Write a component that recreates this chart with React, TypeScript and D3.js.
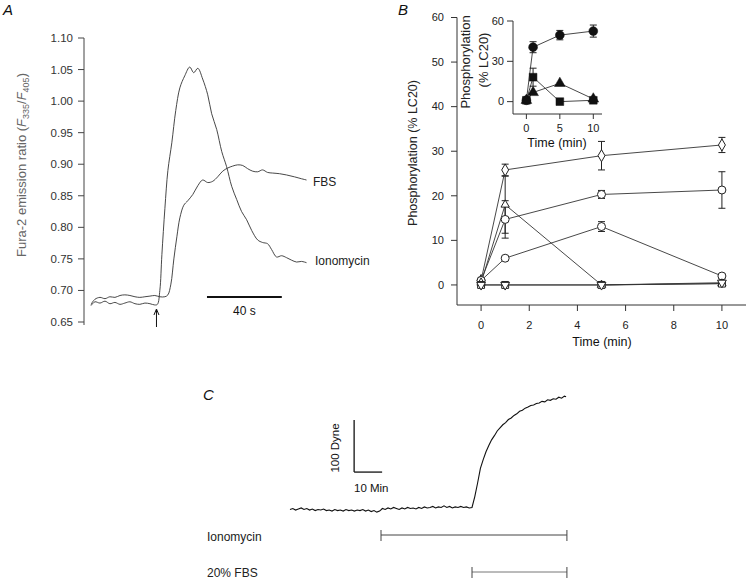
import React from 'react';
import * as d3 from 'd3';

// ---------- Panel A: Fura-2 ratio traces (time in s) ----------
const ionoTime = [0, 2.1, 4.8, 7.5, 10.1, 12.8, 15.5, 18.1, 20.8, 23.5, 26.1, 28.8, 31.5, 34.1, 35.5, 36.8, 37.9, 39.5, 41.1, 43.2, 45.3, 47.5, 50.1, 52.8, 54.9, 57.1, 59.7, 62.4, 64.5, 67.2, 69.9, 72.5, 75.2, 77.9, 80.5, 83.2, 85.9, 89.1, 91.7, 94.4, 96.5, 99.2, 101.9, 104.5, 107.2, 109.9, 112.5, 115.2];
const ionoRatio = [0.676, 0.682, 0.680, 0.683, 0.679, 0.681, 0.678, 0.680, 0.682, 0.679, 0.678, 0.680, 0.679, 0.677, 0.678, 0.700, 0.757, 0.830, 0.890, 0.934, 0.985, 1.021, 1.040, 1.054, 1.045, 1.052, 1.035, 1.010, 0.980, 0.955, 0.920, 0.896, 0.865, 0.844, 0.825, 0.812, 0.795, 0.780, 0.776, 0.774, 0.765, 0.753, 0.755, 0.752, 0.748, 0.745, 0.746, 0.744];
const fbsTime = [0, 2.1, 4.8, 7.5, 10.1, 12.8, 15.5, 18.1, 20.8, 23.5, 26.1, 28.8, 31.5, 34.1, 36.8, 39.5, 41.1, 42.7, 44.3, 45.9, 47.5, 49.6, 51.7, 54.4, 57.1, 59.7, 62.4, 65.1, 67.7, 70.4, 73.1, 75.7, 78.4, 81.1, 83.7, 86.4, 89.1, 91.7, 94.4, 97.1, 100.8, 104.5, 108.8, 112.5, 115.2];
const fbsRatio = [0.678, 0.686, 0.689, 0.687, 0.690, 0.689, 0.692, 0.693, 0.692, 0.690, 0.689, 0.690, 0.691, 0.692, 0.690, 0.690, 0.693, 0.710, 0.750, 0.785, 0.815, 0.835, 0.842, 0.852, 0.866, 0.875, 0.871, 0.873, 0.880, 0.889, 0.894, 0.897, 0.899, 0.898, 0.893, 0.889, 0.888, 0.891, 0.887, 0.886, 0.885, 0.883, 0.880, 0.877, 0.875];
const aTicks = [0.65, 0.70, 0.75, 0.80, 0.85, 0.90, 0.95, 1.00, 1.05, 1.10];
const aArrowTime = 35;
const aBarStart = 62;
const aBarLength = 40;

// ---------- Panel B: main phosphorylation (time in min) ----------
const bTimes = [0, 1, 5, 10];
const bDiamond = [1, 25.8, 29.0, 31.4];
const bDiamondErr = [0, 1.3, 3.2, 1.7];
const bCircleHi = [1, 14.7, 20.3, 21.3];
const bCircleHiErr = [0, 4.2, 0.9, 4.1];
const bCircleLo = [1, 6.0, 13.1, 2.0];
const bCircleLoErr = [0, 0.4, 1.1, 0.4];
const bTriUp = [0.5, 18.0, 0, 0.3];
const bTriUpErr = [0, 6.4, 0, 0];
const bTriDown = [0, 0, 0, 0.5];
const bSquare = [0, 0, 0, 0.3];
const bYTicks = [0, 10, 20, 30, 40, 50, 60];
const bXTicks = [0, 2, 4, 6, 8, 10];

// ---------- Panel B inset ----------
const inTimes = [0, 1, 5, 10];
const inCircle = [1, 40.5, 49.5, 52.5];
const inCircleErr = [0, 4.1, 3.5, 4.5];
const inSquare = [1, 18.2, 0, 1];
const inSquareErr = [0, 6.7, 0, 0];
const inTriangle = [1, 6.8, 13.6, 2];
const inYTicks = [0, 30, 60];
const inXTicks = [0, 5, 10];

// ---------- Panel C: force trace (time in min, dyne) ----------
const cTime = [0, 1, 2, 3, 4, 5, 6, 7, 8, 9, 10, 11, 12, 13, 14, 15, 16, 17, 18, 19, 20, 21, 22, 23, 24, 25, 26, 27, 28, 29, 30, 31, 32, 33, 34, 35, 36, 37, 38, 39, 40, 41, 42, 43, 44, 45, 46, 47, 48, 49, 50, 51, 52, 53, 54, 55, 56, 57, 58, 59, 60, 61, 62, 63, 64, 65, 66, 67, 68, 69, 70, 71, 72, 73, 74, 75, 76, 77, 78, 79, 80, 81, 82, 83, 84, 85, 86, 87, 88, 89, 90, 91, 92, 93, 94, 95, 96, 97, 98, 98.6];
const cForce = [-1, 1, -2, 0, 2, -1, 1, -2, 0, -3, -1, -2, 0, -3, -2, -4, -1, -3, -2, -4, -1, -3, -2, -4, -2, -3, -1, -4, -2, -5, -3, -6, -4, 1, -1, 2, 0, 3, 1, -1, 2, 0, 3, 1, 2, 0, 3, 1, 4, 2, 3, 5, 2, 4, 3, 6, 3, 5, 2, 4, 3, 5, 3, 4, 2, 3, 24, 50, 78, 95, 110, 122, 133, 141, 150, 156, 162, 166, 172, 175, 180, 183, 188, 190, 194, 196, 199, 200, 203, 204, 207, 206, 210, 209, 212, 211, 215, 213, 217, 216];
const cIonoStart = 32.5;
const cFbsStart = 65;
const cEnd = 98.9;
const cScaleT0 = 22.9;
const cScaleMin = 10;
const cScaleF0 = 71;
const cScaleDyne = 100;

const FONT = "'Liberation Sans', Arial, Helvetica, sans-serif";

function zip(a: number[], b: number[]): [number, number][] {
  return a.map((v, i) => [v, b[i]]);
}

export default function App() {
  // Panel A scales
  const xA = d3.scaleLinear().domain([0, 116]).range([91, 308]);
  const yA = d3.scaleLinear().domain([0.65, 1.10]).range([322, 38]);
  const lineA = d3.line<[number, number]>().x(d => xA(d[0])).y(d => yA(d[1])).curve(d3.curveCatmullRom);

  // Panel B scales
  const xB = d3.scaleLinear().domain([-1, 11]).range([457, 746]);
  const yB = d3.scaleLinear().domain([-4.5, 60]).range([305, 17.5]);
  const lineB = d3.line<[number, number]>().x(d => xB(d[0])).y(d => yB(d[1]));

  // Inset scales
  const xI = d3.scaleLinear().domain([-2, 11.3]).range([513, 602]);
  const yI = d3.scaleLinear().domain([-9.2, 60]).range([114, 21]);
  const lineI = d3.line<[number, number]>().x(d => xI(d[0])).y(d => yI(d[1]));

  // Panel C scales
  const xC = d3.scaleLinear().domain([0, 100]).range([290, 570]);
  const yC = d3.scaleLinear().domain([0, 100]).range([509, 457]);
  const lineC = d3.line<[number, number]>().x(d => xC(d[0])).y(d => yC(d[1]));

  const sym = (type: d3.SymbolType, size: number) => d3.symbol().type(type).size(size)() as string;

  const mainSeries = [
    { v: bDiamond, e: bDiamondErr, shape: d3.symbolDiamond, size: 42, rot: 0 },
    { v: bCircleHi, e: bCircleHiErr, shape: d3.symbolCircle, size: 50, rot: 0 },
    { v: bCircleLo, e: bCircleLoErr, shape: d3.symbolCircle, size: 50, rot: 0 },
    { v: bTriUp, e: bTriUpErr, shape: d3.symbolTriangle, size: 30, rot: 0 },
    { v: bSquare, e: null, shape: d3.symbolSquare, size: 48, rot: 0 },
    { v: bTriDown, e: null, shape: d3.symbolTriangle, size: 34, rot: 180 },
  ];
  const insetSeries = [
    { v: inCircle, e: inCircleErr, shape: d3.symbolCircle, size: 62 },
    { v: inSquare, e: inSquareErr, shape: d3.symbolSquare, size: 60 },
    { v: inTriangle, e: null, shape: d3.symbolTriangle, size: 50 },
  ];

  const ink = '#222';

  return (
    <svg width={750} height={582} style={{ position: 'absolute', left: 0, top: 0, background: '#fff' }} fontFamily={FONT}>
      <rect x={0} y={0} width={750} height={582} fill="#fff" />

      {/* ================= Panel A ================= */}
      <text x={3} y={15} fontSize={15} fontStyle="italic" fill="#111">A</text>
      <line x1={84} x2={84} y1={yA(1.10)} y2={yA(0.65) + 3} stroke="#444" strokeWidth={1} />
      {aTicks.map(t => (
        <g key={t}>
          <line x1={78} x2={84} y1={yA(t)} y2={yA(t)} stroke="#444" strokeWidth={1} />
          <text x={73} y={yA(t)} dy="0.35em" textAnchor="end" fontSize={11.5} fill="#333">{t.toFixed(2)}</text>
        </g>
      ))}
      <text transform={`translate(26,165) rotate(-90)`} textAnchor="middle" fontSize={13} fill="#666">
        Fura-2 emission ratio (<tspan fontStyle="italic">F</tspan><tspan fontSize={9} dy={3}>335</tspan><tspan dy={-3}>/</tspan><tspan fontStyle="italic">F</tspan><tspan fontSize={9} dy={3}>405</tspan><tspan dy={-3}>)</tspan>
      </text>
      <path d={lineA(zip(ionoTime, ionoRatio)) as string} fill="none" stroke="#333" strokeWidth={0.9} />
      <path d={lineA(zip(fbsTime, fbsRatio)) as string} fill="none" stroke="#333" strokeWidth={0.9} />
      <text x={313} y={185.5} fontSize={12} fill="#222">FBS</text>
      <text x={315} y={265} fontSize={12} fill="#222">Ionomycin</text>
      {/* arrow */}
      <line x1={xA(aArrowTime)} x2={xA(aArrowTime)} y1={310} y2={327} stroke="#111" strokeWidth={1} />
      <path d={`M${xA(aArrowTime) - 2.5},${315} L${xA(aArrowTime)},${309} L${xA(aArrowTime) + 2.5},${315}`} fill="none" stroke="#111" strokeWidth={1} />
      {/* 40 s scale bar */}
      <line x1={xA(aBarStart)} x2={xA(aBarStart + aBarLength)} y1={297} y2={297} stroke="#111" strokeWidth={2} />
      <text x={xA(aBarStart + aBarLength / 2)} y={314.5} textAnchor="middle" fontSize={12} fill="#111">40 s</text>

      {/* ================= Panel B ================= */}
      <text x={398} y={15} fontSize={15} fontStyle="italic" fill="#111">B</text>
      <line x1={457} x2={457} y1={yB(60)} y2={305} stroke="#333" strokeWidth={1} />
      <line x1={457} x2={746} y1={305} y2={305} stroke="#333" strokeWidth={1} />
      {bYTicks.map(t => (
        <g key={t}>
          <line x1={451} x2={457} y1={yB(t)} y2={yB(t)} stroke="#333" strokeWidth={1} />
          <text x={444} y={yB(t)} dy="0.35em" textAnchor="end" fontSize={11} fill="#222">{t}</text>
        </g>
      ))}
      {bXTicks.map(t => (
        <g key={t}>
          <line x1={xB(t)} x2={xB(t)} y1={305} y2={311} stroke="#333" strokeWidth={1} />
          <text x={xB(t)} y={329} textAnchor="middle" fontSize={11} fill="#222">{t}</text>
        </g>
      ))}
      <text x={602} y={346} textAnchor="middle" fontSize={12.5} fill="#111">Time (min)</text>
      <text transform={`translate(417,153) rotate(-90)`} textAnchor="middle" fontSize={12.5} fill="#222">Phosphorylation (% LC20)</text>

      {/* main lines */}
      {mainSeries.map((s, i) => (
        <path key={'l' + i} d={lineB(zip(bTimes, s.v)) as string} fill="none" stroke="#333" strokeWidth={0.9} />
      ))}
      {/* error bars */}
      {mainSeries.map((s, i) => s.e ? s.e.map((e, j) => e > 0 ? (
        <g key={'e' + i + '-' + j} stroke="#222" strokeWidth={1}>
          <line x1={xB(bTimes[j])} x2={xB(bTimes[j])} y1={yB(s.v[j] - e)} y2={yB(s.v[j] + e)} />
          <line x1={xB(bTimes[j]) - 3.5} x2={xB(bTimes[j]) + 3.5} y1={yB(s.v[j] - e)} y2={yB(s.v[j] - e)} />
          <line x1={xB(bTimes[j]) - 3.5} x2={xB(bTimes[j]) + 3.5} y1={yB(s.v[j] + e)} y2={yB(s.v[j] + e)} />
        </g>
      ) : null) : null)}
      {/* markers */}
      {mainSeries.map((s, i) => s.v.map((v, j) => (
        <path key={'m' + i + '-' + j} d={sym(s.shape, s.size)}
          transform={`translate(${xB(bTimes[j])},${yB(v)}) rotate(${s.rot})`}
          fill="#fff" stroke="#222" strokeWidth={1} />
      )))}

      {/* ================= Inset ================= */}
      <rect x={508} y={16} width={110} height={104} fill="#fff" />
      <line x1={513} x2={513} y1={yI(60)} y2={114} stroke="#333" strokeWidth={1} />
      <line x1={513} x2={602} y1={114} y2={114} stroke="#333" strokeWidth={1} />
      {inYTicks.map(t => (
        <g key={t}>
          <line x1={507} x2={513} y1={yI(t)} y2={yI(t)} stroke="#333" strokeWidth={1} />
          <text x={504} y={yI(t)} dy="0.35em" textAnchor="end" fontSize={11} fill="#222">{t}</text>
        </g>
      ))}
      {inXTicks.map(t => (
        <g key={t}>
          <line x1={xI(t)} x2={xI(t)} y1={114} y2={119} stroke="#333" strokeWidth={1} />
          <text x={xI(t)} y={131.5} textAnchor="middle" fontSize={11} fill="#222">{t}</text>
        </g>
      ))}
      <text x={557} y={146.5} textAnchor="middle" fontSize={12.5} fill="#111">Time (min)</text>
      <text transform={`translate(470,62) rotate(-90)`} textAnchor="middle" fontSize={13} fill="#222">Phosphorylation</text>
      <text transform={`translate(488,60) rotate(-90)`} textAnchor="middle" fontSize={13} fill="#222">(% LC20)</text>
      {insetSeries.map((s, i) => (
        <path key={'il' + i} d={lineI(zip(inTimes, s.v)) as string} fill="none" stroke="#333" strokeWidth={0.9} />
      ))}
      {insetSeries.map((s, i) => s.e ? s.e.map((e, j) => e > 0 ? (
        <g key={'ie' + i + '-' + j} stroke="#222" strokeWidth={1}>
          <line x1={xI(inTimes[j])} x2={xI(inTimes[j])} y1={yI(s.v[j] - e)} y2={yI(s.v[j] + e)} />
          <line x1={xI(inTimes[j]) - 3.5} x2={xI(inTimes[j]) + 3.5} y1={yI(s.v[j] - e)} y2={yI(s.v[j] - e)} />
          <line x1={xI(inTimes[j]) - 3.5} x2={xI(inTimes[j]) + 3.5} y1={yI(s.v[j] + e)} y2={yI(s.v[j] + e)} />
        </g>
      ) : null) : null)}
      {insetSeries.map((s, i) => s.v.map((v, j) => (
        <path key={'im' + i + '-' + j} d={sym(s.shape, s.size)}
          transform={`translate(${xI(inTimes[j])},${yI(v)})`} fill="#111" stroke="#111" strokeWidth={0.5} />
      )))}

      {/* ================= Panel C ================= */}
      <text x={203} y={400} fontSize={15} fontStyle="italic" fill="#111">C</text>
      <line x1={xC(cScaleT0)} x2={xC(cScaleT0)} y1={yC(cScaleF0)} y2={yC(cScaleF0 + cScaleDyne)} stroke="#111" strokeWidth={1.3} />
      <line x1={xC(cScaleT0)} x2={xC(cScaleT0 + cScaleMin)} y1={yC(cScaleF0)} y2={yC(cScaleF0)} stroke="#111" strokeWidth={1.3} />
      <text transform={`translate(339,448) rotate(-90)`} textAnchor="middle" fontSize={11.5} fill="#111">100 Dyne</text>
      <text x={354} y={491.5} fontSize={11.5} fill="#111">10 Min</text>
      <path d={lineC(zip(cTime, cForce)) as string} fill="none" stroke="#111" strokeWidth={1.1} />
      <text x={207} y={540.5} fontSize={12} fill="#222">Ionomycin</text>
      <text x={207} y={577} fontSize={12} fill="#222">20% FBS</text>
      <g stroke="#444" strokeWidth={1}>
        <line x1={xC(cIonoStart)} x2={xC(cEnd)} y1={535} y2={535} />
        <line x1={xC(cIonoStart)} x2={xC(cIonoStart)} y1={530} y2={541} />
        <line x1={xC(cEnd)} x2={xC(cEnd)} y1={530} y2={541} />
        <line x1={xC(cFbsStart)} x2={xC(cEnd)} y1={572} y2={572} stroke="#777" />
        <line x1={xC(cFbsStart)} x2={xC(cFbsStart)} y1={567} y2={578} />
        <line x1={xC(cEnd)} x2={xC(cEnd)} y1={567} y2={578} />
      </g>
    </svg>
  );
}
